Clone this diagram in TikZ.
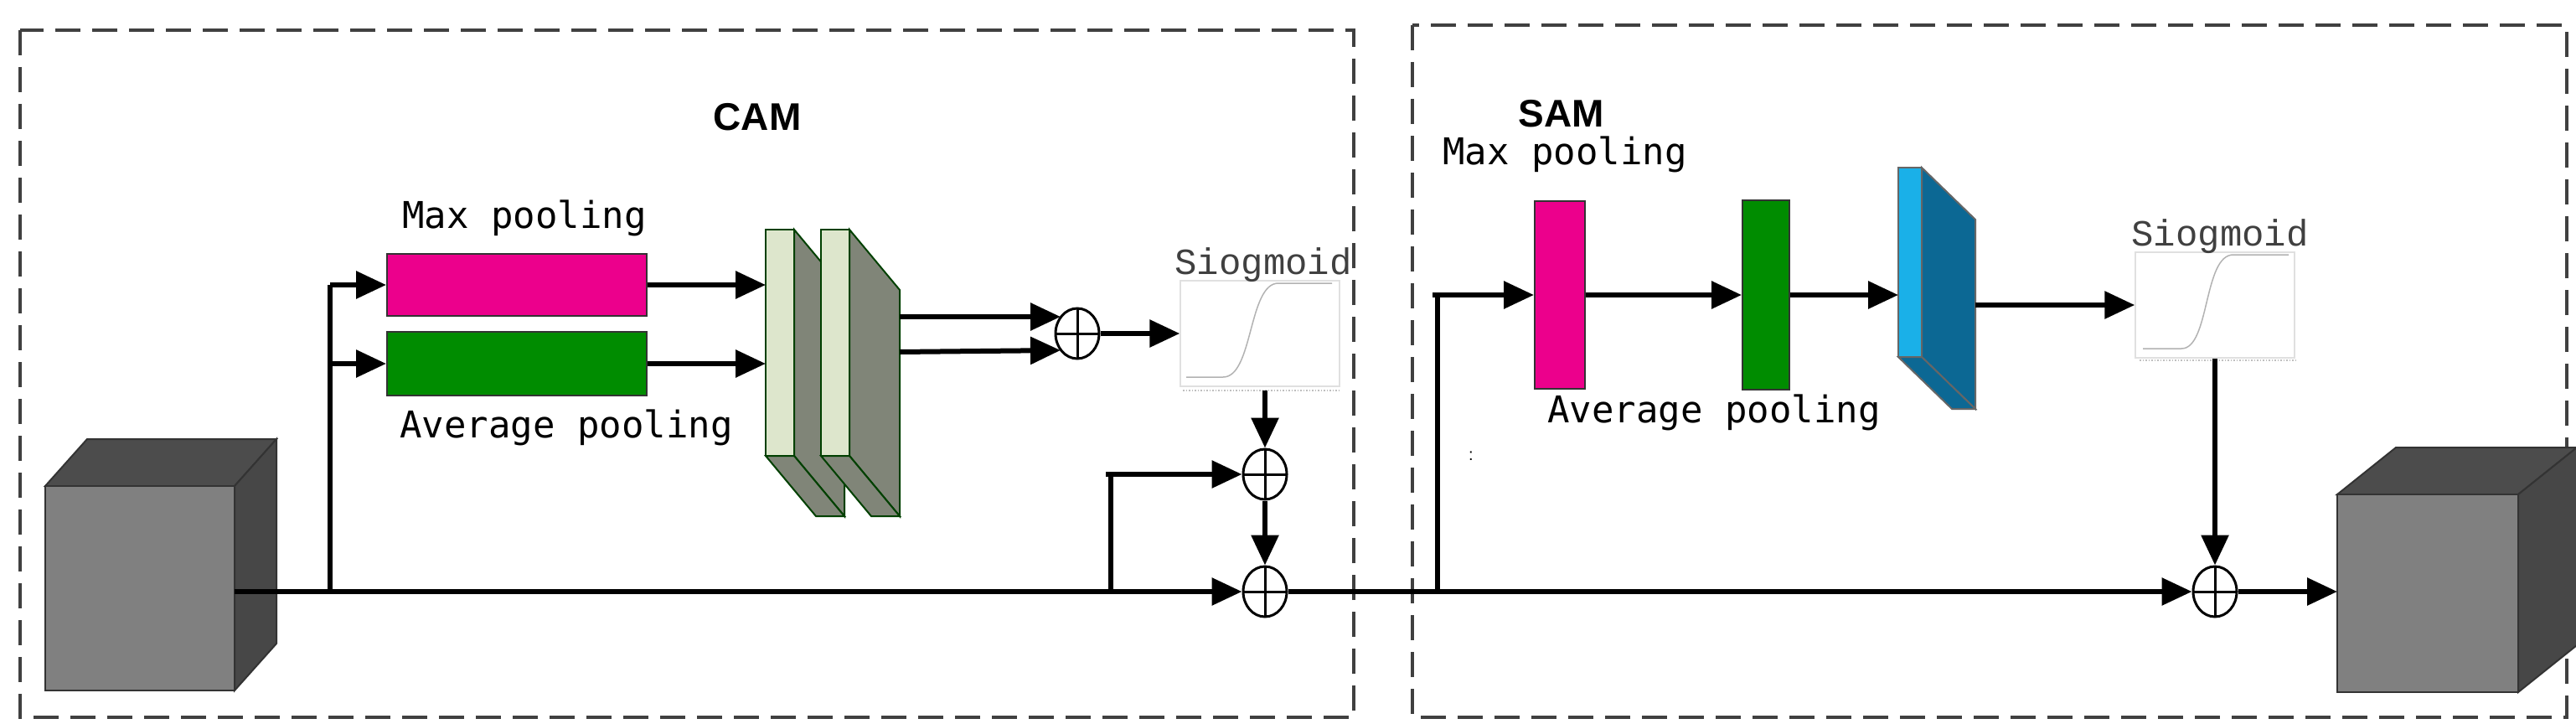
\documentclass[tikz,border=0pt]{standalone}
\usepackage{fontspec}
\setmainfont{Liberation Sans}
\newfontfamily\monof{DejaVu Sans Mono}
\newfontfamily\serifmono{Liberation Mono}
\usetikzlibrary{arrows.meta,shapes.geometric}
\begin{document}
\begin{tikzpicture}[x=2pt,y=-2pt,
  conn/.style={line width=6pt,-{Triangle[length=36pt,width=32pt]}},
  line/.style={line width=6pt},
  box/.style={draw=black!75,dash pattern=on 30pt off 14pt,line width=4pt},
  oplus/.style={ellipse,draw,line width=3pt,minimum width=52pt,minimum height=60pt,inner sep=0pt,
     path picture={\draw[line width=3pt] (path picture bounding box.north)--(path picture bounding box.south)
       (path picture bounding box.west)--(path picture bounding box.east);}},
  lbl/.style={font=\monof\fontsize{44}{50}\selectfont},
  title/.style={font=\bfseries\fontsize{46}{50}\selectfont},
  sigt/.style={font=\serifmono\fontsize{44}{50}\selectfont,text=black!75},
  sig/.style={draw=black!12,line width=1.5pt,minimum width=190pt,minimum height=126pt,inner sep=0pt},
  pool/.style={draw=black!80,line width=2pt,inner sep=0pt}
]
\useasboundingbox (0,0) rectangle (1537.5,432);
% dashed boxes
\draw[box] (12,18) rectangle (808,428);
\draw[box] (843,15) rectangle (1532,428);
\node[title] (cam) at (452,70) {CAM};
\node[title] (sam) at (932,68) {SAM};
% input cube
\filldraw[fill=black!70,draw=black!80,line width=2pt] (27,290)--(52,262)--(165,262)--(140,290)--cycle;
\filldraw[fill=black!72,draw=black!80,line width=2pt] (140,290)--(165,262)--(165,384)--(140,412)--cycle;
\filldraw[fill=black!50,draw=black!80,line width=2pt] (27,290) rectangle (140,412);
\coordinate (inR) at (140,353);
% output cube
\filldraw[fill=black!70,draw=black!80,line width=2pt] (1395,295)--(1430,267)--(1538,267)--(1503,295)--cycle;
\filldraw[fill=black!72,draw=black!80,line width=2pt] (1503,295)--(1538,267)--(1538,385)--(1503,413)--cycle;
\filldraw[fill=black!50,draw=black!80,line width=2pt] (1395,295) rectangle (1503,413);
\coordinate (outL) at (1395,353);
% CAM pooling
\node[pool,fill=magenta,minimum width=310pt,minimum height=74pt] (mp) at (308.5,170) {};
\node[pool,fill=green!55!black,minimum width=310pt,minimum height=76pt] (ap) at (308.5,217) {};
\node[lbl] at (313,130) {Max pooling};
\node[lbl] at (338,255) {Average pooling};
% slabs
\foreach \x in {457,490}{
 \filldraw[fill={rgb,255:red,128;green,133;blue,120},draw=green!25!black,line width=2pt]
   (\x+17,137)--(\x+47,173)--(\x+47,308)--(\x+17,272)--cycle;
 \filldraw[fill={rgb,255:red,128;green,133;blue,120},draw=green!25!black,line width=2pt]
   (\x,272)--(\x+17,272)--(\x+47,308)--(\x+30,308)--cycle;
 \filldraw[fill={rgb,255:red,221;green,230;blue,204},draw=green!25!black,line width=2pt] (\x,137) rectangle (\x+17,272);
}
\coordinate (sl1) at (457,170);
\coordinate (sl2) at (457,217);
\coordinate (so1) at (537,189);
\coordinate (so2) at (537,210);
% branch
\coordinate (br) at (197,353);
\draw[line] (br)--(197,170);
\draw[conn] (197,170)--(mp.west);
\draw[conn] (197,217)--(ap.west);
\draw[conn] (mp.east)--(sl1);
\draw[conn] (ap.east)--(sl2);
% oplus nodes
\node[oplus] (p1) at (643,199) {};
\node[oplus] (p2) at (755,283) {};
\node[oplus] (p3) at (755,353) {};
\node[oplus] (p4) at (1322,353) {};
\coordinate (pi1) at (633,189);
\coordinate (pi2) at (633,209);
\draw[conn] (so1)--(pi1);
\draw[conn] (so2)--(pi2);
% sigmoid CAM
\node[sig] (s1) at (752,199) {};
\node[sigt,anchor=south] at (754,170) {Siogmoid};
\draw[black!30,line width=1.5pt] (708,225) -- (730,225) .. controls (748,225) and (745,169) .. (763,169) -- (795,169);
\draw[black!25,line width=1.5pt,dotted] (706,233)--(800,233);
\draw[conn] (p1.east)--(s1.west);
\draw[conn] (755,233)--(p2.north);
\draw[conn] (p2.south)--(p3.north);
\coordinate (br2) at (663,353);
\draw[line] (br2)--(663,283);
\draw[conn] (660,283)--(p2.west);
\draw[conn] (inR)--(p3.west);
% SAM
\node[pool,fill=magenta,minimum width=60pt,minimum height=224pt] (smp) at (931,176) {};
\node[pool,fill=green!55!black,minimum width=56pt,minimum height=226pt] (sap) at (1054,176) {};
\node[lbl] at (934,92) {Max pooling};
\node[lbl] at (1023,246) {Average pooling};
\node[font=\fontsize{20}{20}\selectfont] (colon) at (878,272) {:};
\filldraw[fill={rgb,255:red,12;green,104;blue,148},draw=black!60,line width=2pt]
  (1147,100)--(1179,131)--(1179,244)--(1147,213)--cycle;
\filldraw[fill={rgb,255:red,12;green,104;blue,148},draw=black!60,line width=2pt]
  (1133,213)--(1147,213)--(1179,244)--(1165,244)--cycle;
\filldraw[fill={rgb,255:red,26;green,176;blue,232},draw=black!60,line width=2pt] (1133,100) rectangle (1147,213);
\coordinate (bl) at (1133,176);
\coordinate (bo) at (1179,182);
\coordinate (br3) at (858,353);
\draw[line] (br3)--(858,176);
\draw[conn] (855,176)--(smp.west);
\draw[conn] (smp.east)--(sap.west);
\draw[conn] (sap.east)--(bl);
\node[sig] (s2) at (1322,182) {};
\node[sigt,anchor=south] at (1325,153) {Siogmoid};
\draw[black!30,line width=1.5pt] (1279,208) -- (1302,208) .. controls (1319,208) and (1315,152) .. (1333,152) -- (1366,152);
\draw[black!25,line width=1.5pt,dotted] (1277,215)--(1370,215);
\draw[conn] (bo)--(s2.west);
\draw[conn] (s2.south)--(p4.north);
\draw[line] (p3.east)--(br3);
\draw[conn] (br3)--(p4.west);
\draw[conn] (p4.east)--(outL);
\end{tikzpicture}
\end{document}
